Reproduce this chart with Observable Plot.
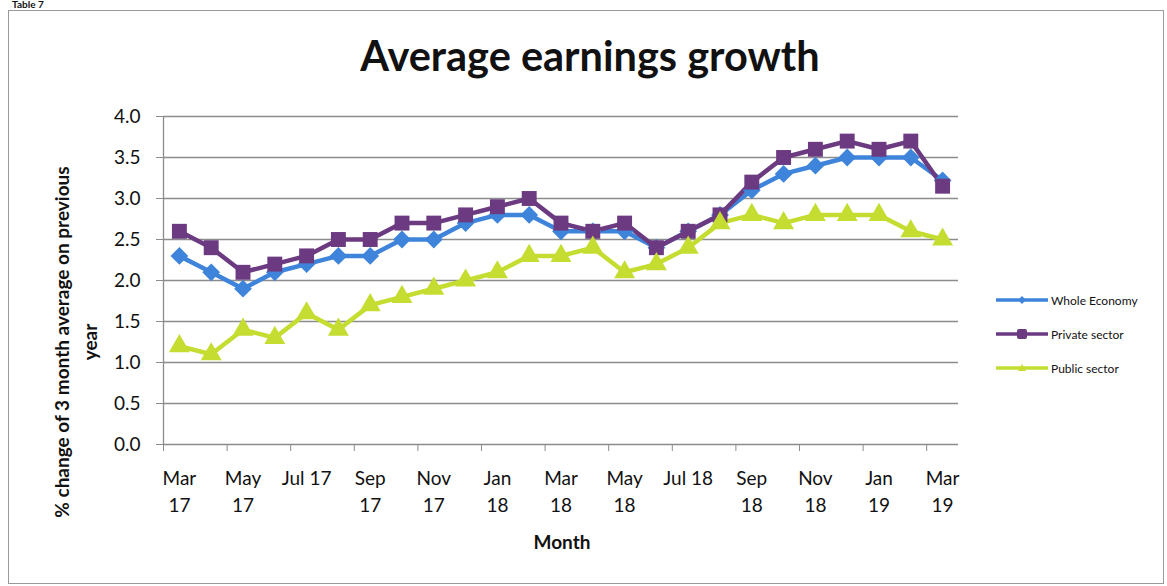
<!DOCTYPE html>
<html>
<head>
<meta charset="utf-8">
<script src="https://cdn.jsdelivr.net/npm/d3@7"></script>
<script src="https://cdn.jsdelivr.net/npm/@observablehq/plot@0.6"></script>
<style>
  html, body { margin: 0; padding: 0; background: #fff; }
  body { width: 1167px; height: 586px; position: relative; overflow: hidden; font-family: Lato, "Open Sans", sans-serif; }
  #frame { position: absolute; left: 8px; top: 10px; width: 1156px; height: 574px; border: 1px solid #9a9a9a; box-sizing: border-box; }
  #table { position: absolute; left: 10px; top: -2px; font: bold 10px/12px Lato, sans-serif; color: #111; background: #fff; padding: 0 2px; }
  #title { position: absolute; left: 0; width: 1180px; top: 30px; text-align: center; font: bold 41.5px Lato, sans-serif; color: #111; }
  #ytitle { position: absolute; left: 76px; top: 342px; width: 460px; transform: translate(-50%, -50%) rotate(-90deg); text-align: center; font: bold 19px Lato, sans-serif; line-height: 28px; color: #111; }
  #xtitle { position: absolute; left: 562px; top: 530px; transform: translateX(-50%); font: bold 19px Lato, sans-serif; color: #111; }
  #chart { position: absolute; left: 0; top: 0; }
  #legend { position: absolute; left: 995px; top: 283px; font: 12px Lato, sans-serif; color: #111; }
  .li { display: flex; align-items: center; height: 34px; }
  .li svg { margin-right: 2px; }
</style>
</head>
<body>
<div id="frame"></div>
<div id="table">Table 7</div>
<div id="title">Average earnings growth</div>
<div id="chart"></div>
<div id="ytitle">% change of 3 month average on previous<br>year</div>
<div id="xtitle">Month</div>
<div id="legend"></div>
<script>
const months = ["Mar 17","Apr 17","May 17","Jun 17","Jul 17","Aug 17","Sep 17","Oct 17","Nov 17","Dec 17",
  "Jan 18","Feb 18","Mar 18","Apr 18","May 18","Jun 18","Jul 18","Aug 18","Sep 18","Oct 18","Nov 18","Dec 18",
  "Jan 19","Feb 19","Mar 19"];
const wholeEconomy = [2.3,2.1,1.9,2.1,2.2,2.3,2.3,2.5,2.5,2.7,2.8,2.8,2.6,2.6,2.6,2.4,2.6,2.8,3.1,3.3,3.4,3.5,3.5,3.5,3.22];
const privateSector = [2.6,2.4,2.1,2.2,2.3,2.5,2.5,2.7,2.7,2.8,2.9,3.0,2.7,2.6,2.7,2.4,2.6,2.8,3.2,3.5,3.6,3.7,3.6,3.7,3.15];
const publicSector = [1.2,1.1,1.4,1.3,1.6,1.4,1.7,1.8,1.9,2.0,2.1,2.3,2.3,2.4,2.1,2.2,2.4,2.7,2.8,2.7,2.8,2.8,2.8,2.6,2.5];
const seriesNames = ["Whole Economy","Private sector","Public sector"];
const seriesColors = ["#3e84da","#6b3a80","#c5dc30"];
const tickLabels = ["Mar\n17","May\n17","Jul 17","Sep\n17","Nov\n17","Jan\n18","Mar\n18","May\n18","Jul 18","Sep\n18","Nov\n18","Jan\n19","Mar\n19"];
const yTicks = [0,0.5,1,1.5,2,2.5,3,3.5,4];

const seriesValues = [wholeEconomy, privateSector, publicSector];
const data = seriesValues.flatMap((vals, s) => vals.map((v, i) => ({i, month: months[i], value: v, series: seriesNames[s]})));
const labelIdx = tickLabels.map((_, k) => k * 2);
const boundaryIdx = d3.range(-0.5, months.length, 2);

const color = {domain: seriesNames, range: seriesColors};
const sub = name => data.filter(d => d.series === name);

const plot = Plot.plot({
  width: 1167, height: 586,
  marginLeft: 163, marginRight: 209, marginTop: 116, marginBottom: 142,
  style: {fontFamily: "Lato, sans-serif", fontSize: "19px", color: "#111", background: "transparent"},
  x: {type: "linear", domain: [-0.5, months.length - 0.5], axis: null},
  y: {domain: [0, 4], axis: null},
  color,
  marks: [
    Plot.ruleY(yTicks, {stroke: "#8c8c8c", strokeWidth: 1.3}),
    Plot.ruleX([-0.5], {stroke: "#8c8c8c", strokeWidth: 1.3}),
    Plot.axisY({ticks: yTicks, tickFormat: d3.format(".1f"), tickSize: 7, tickPadding: 16, stroke: "#8c8c8c", fontSize: 19, fill: "#111", label: null}),
    Plot.axisX({ticks: boundaryIdx, tickFormat: () => "", tickSize: 7, stroke: "#8c8c8c", label: null}),
    Plot.axisX({ticks: labelIdx, tickFormat: i => tickLabels[i / 2], tickSize: 0, tickPadding: 22, fontSize: 19, fill: "#111", lineHeight: 1.4, label: null}),
    Plot.line(data, {x: "i", y: "value", z: "series", stroke: "series", strokeWidth: 4.5}),
    Plot.dot(sub("Whole Economy"), {x: "i", y: "value", fill: "series", symbol: "diamond2", r: 8}),
    Plot.dot(sub("Private sector"), {x: "i", y: "value", fill: "series", symbol: "square2", r: 9.5}),
    Plot.dot(sub("Public sector"), {x: "i", y: "value", fill: "series", symbol: "triangle2", r: 10})
  ]
});
document.getElementById("chart").appendChild(plot);

const legend = document.getElementById("legend");
const shapes = [
  '<path d="M27 3 L31 7 L27 11 L23 7 Z"/>',
  '<rect x="22" y="2" width="10" height="10" rx="2"/>',
  '<path d="M27 3 L31 10 L23 10 Z"/>'
];
seriesNames.forEach((n, k) => {
  const row = document.createElement("div");
  row.className = "li";
  row.innerHTML = `<svg width="54" height="14"><line x1="1" x2="53" y1="7" y2="7" stroke="${seriesColors[k]}" stroke-width="3.5"/><g fill="${seriesColors[k]}">${shapes[k]}</g></svg><span>${n}</span>`;
  legend.appendChild(row);
});
</script>
</body>
</html>
